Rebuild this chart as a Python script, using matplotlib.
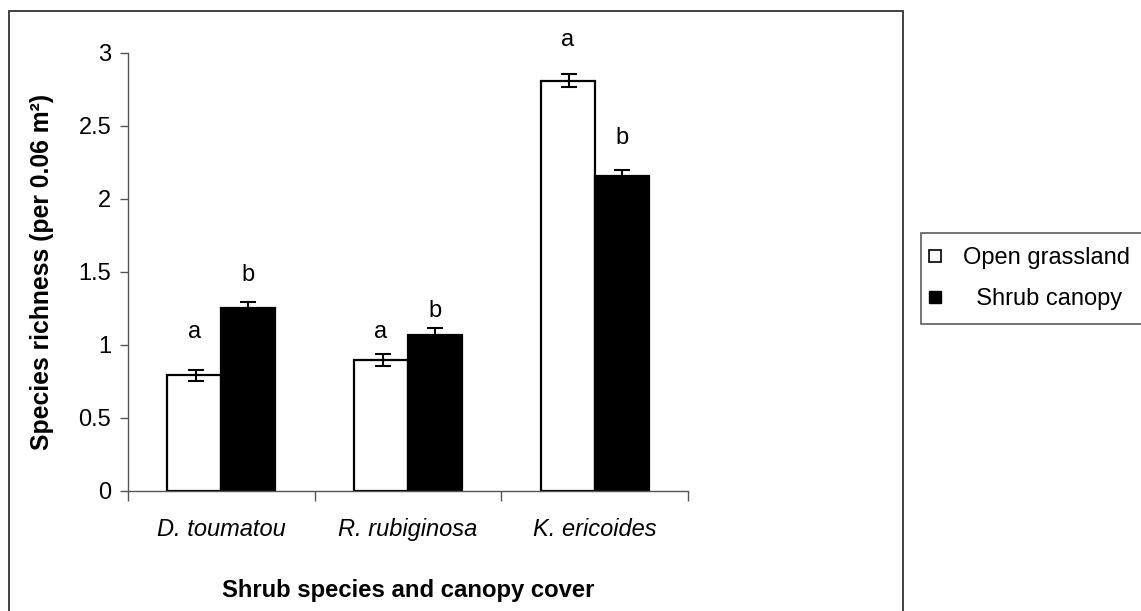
import matplotlib
matplotlib.use("Agg")
import matplotlib.pyplot as plt
import numpy as np
from matplotlib.patches import Rectangle
from matplotlib.lines import Line2D

plt.rcParams["font.family"] = ["Liberation Sans", "DejaVu Sans"]

# ── Data ──────────────────────────────────────────────────────────────────────
species = ["D. toumatou", "R. rubiginosa", "K. ericoides"]
open_mean = [0.79, 0.895, 2.81]
open_err = [0.04, 0.04, 0.045]
canopy_mean = [1.25, 1.07, 2.16]
canopy_err = [0.04, 0.045, 0.04]
open_letters = ["a", "a", "a"]
canopy_letters = ["b", "b", "b"]
open_letter_y = [1.09, 1.09, 3.09]
canopy_letter_y = [1.48, 1.23, 2.42]
yticks = [0, 0.5, 1, 1.5, 2, 2.5, 3]
ytick_labels = ["0", "0.5", "1", "1.5", "2", "2.5", "3"]

# ── Figure ────────────────────────────────────────────────────────────────────
fig = plt.figure(figsize=(11.41, 6.11), dpi=100)
ax = fig.add_axes([0.1122, 0.1969, 0.4908, 0.7164])

x = np.arange(len(species))
w = 0.29
spine_col = "#555555"
fs = 17

ax.bar(x - w / 2, open_mean, w, color="white", edgecolor="black", linewidth=1.6, zorder=2)
ax.bar(x + w / 2, canopy_mean, w, color="black", edgecolor="black", linewidth=1.6, zorder=2)
ax.errorbar(x - w / 2 + 0.01, open_mean, yerr=open_err, fmt="none", ecolor="black",
            elinewidth=1.5, capsize=6, capthick=1.5, zorder=3)
ax.errorbar(x + w / 2, canopy_mean, yerr=canopy_err, fmt="none", ecolor="black",
            elinewidth=1.5, capsize=6, capthick=1.5, zorder=3)

for i in range(len(species)):
    ax.text(x[i] - w / 2, open_letter_y[i], open_letters[i], ha="center", va="center", fontsize=fs)
    ax.text(x[i] + w / 2, canopy_letter_y[i], canopy_letters[i], ha="center", va="center", fontsize=fs)

ax.set_xlim(-0.5, len(species) - 0.5)
ax.set_ylim(0, 3)
ax.set_yticks(yticks)
ax.set_yticklabels(ytick_labels, fontsize=fs)

# category ticks at the boundaries, labels centred under the groups
ax.set_xticks(np.arange(len(species) + 1) - 0.5)
ax.set_xticklabels([])
ax.set_xticks(x, minor=True)
ax.set_xticklabels(species, minor=True, fontsize=fs, style="italic")
ax.tick_params(axis="x", which="minor", length=0, pad=20)
ax.tick_params(axis="x", which="major", length=7, width=1, color=spine_col, direction="out")
ax.tick_params(axis="y", length=6, width=1, color=spine_col, direction="out", pad=6)

for s in ["top", "right"]:
    ax.spines[s].set_visible(False)
for s in ["left", "bottom"]:
    ax.spines[s].set_color(spine_col)
    ax.spines[s].set_linewidth(1)

ax.set_ylabel("Species richness (per 0.06 m²)", fontsize=17.8, fontweight="bold", labelpad=18)
ax.set_xlabel("Shrub species and canopy cover", fontsize=17.2, fontweight="bold", labelpad=27)

# outer frame round the chart area
fig.patches.append(Rectangle((0.0079, -0.02), 0.7832, 1.0015, transform=fig.transFigure,
                             fill=False, edgecolor="#333333", linewidth=1.3))

# legend
handles = [
    Line2D([], [], marker="s", linestyle="none", markersize=8, markerfacecolor="white",
           markeredgecolor="black", markeredgewidth=1.2),
    Line2D([], [], marker="s", linestyle="none", markersize=9, markerfacecolor="black",
           markeredgecolor="black"),
]
leg = fig.legend(handles, ["Open grassland", "  Shrub canopy"], loc="upper left",
                 bbox_to_anchor=(0.807, 0.619), fontsize=fs, frameon=True, fancybox=False,
                 handlelength=0.0, handletextpad=1.2, labelspacing=0.8, borderpad=0.6,
                 borderaxespad=0)
leg.get_frame().set_edgecolor("#333333")
leg.get_frame().set_linewidth(1.2)

fig.savefig("out.png", dpi=100)
